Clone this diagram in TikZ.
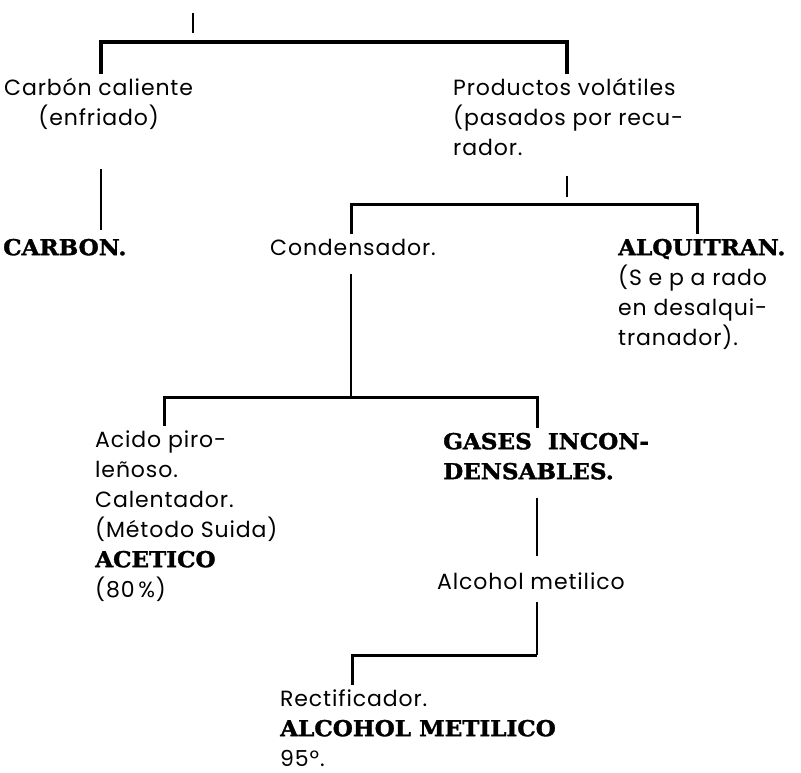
\documentclass[tikz,border=0pt]{standalone}
\usepackage{fontspec}
\setmainfont{Poppins}[LetterSpace=4]
\newfontfamily\slab{DejaVu Serif}[FakeStretch=1.05, FakeBold=1.5]
\tikzset{rama/.style={line width=3pt}}
\tikzset{tallo/.style={line width=2.6pt}}
\newcommand{\resalta}[1]{{\slab\bfseries #1}}

\begin{document}
\begin{tikzpicture}[
                x=1pt, y=-1pt,
                every node/.style={inner sep=0pt, anchor=north west, align=left,
                                   font=\fontsize{22}{30}\selectfont}
            ]
                \useasboundingbox (0,0) rectangle (801,772);

                \node[align=center](carbcal) at (4,74) {\strut Carbón caliente\\(enfriado)};
                \node[](carbon) at (3,234) {\strut\resalta{CARBON.}};
                \node[](prodvol) at (453,74) {\strut Productos volátiles\\(pasados por recu-\\rador.};
                \node[](conden) at (270,234) {\strut Condensador.};
                \node[](alquit) at (618,234) {\strut\resalta{ALQUITRAN.}\\(S e p a rado\\en desalqui-\\tranador).};
                \node[](acido) at (95,426) {\strut Acido piro-\\leñoso.\\Calentador.\\(Método Suida)\\\resalta{ACETICO}\\(80\,\%)};
                \node[](gases) at (443,428) {\strut\resalta{GASES\ \ INCON-}\\\resalta{DENSABLES.}};
                \node[](alcmet) at (437,568) {\strut Alcohol metilico};
                \node[](rectif) at (280,685) {\strut Rectificador.\\\resalta{ALCOHOL METILICO}\\95º.};

                \coordinate (raiz) at (193,13);
                \coordinate (b1i) at (101,42);
                \coordinate (b1d) at (567,42);
                \coordinate (b2i) at (351,204);
                \coordinate (b2c) at (567,204);
                \coordinate (b2d) at (697,204);
                \coordinate (b3i) at (164,397);
                \coordinate (b3d) at (537,397);
                \coordinate (b4i) at (352,655);
                \coordinate (b4d) at (537,655);

                \draw[tallo, shorten >=9pt] (raiz) -- (raiz |- b1i);
                \draw[rama, line width=3.6pt] (b1i |- carbcal.north) -- (b1i) -- (b1d) -- (b1d |- prodvol.north);
                \draw[tallo, shorten <=40pt, shorten >=4pt] (b1i |- carbcal.south) -- (b1i |- carbon.north);

                \draw[tallo, shorten <=20pt, shorten >=7pt] (b2c |- prodvol.south) -- (b2c);
                \draw[rama] (b2i |- conden.north) -- (b2i) -- (b2d) -- (b2d |- alquit.north);

                \draw[tallo, shorten <=10pt] (conden.south -| b2i) -- (b2i |- b3i);
                \draw[rama] (b3i |- acido.north) -- (b3i) -- (b3d) -- (b3d |- gases.north);

                \draw[tallo, shorten <=18pt, shorten >=12pt] (b3d |- gases.south) -- (b3d |- alcmet.north);
                \draw[tallo, shorten <=4pt] (b4d |- alcmet.south) -- (b4d);
                \draw[rama] (b4i |- rectif.north) -- (b4i) -- (b4d);
            \end{tikzpicture}
\end{document}
